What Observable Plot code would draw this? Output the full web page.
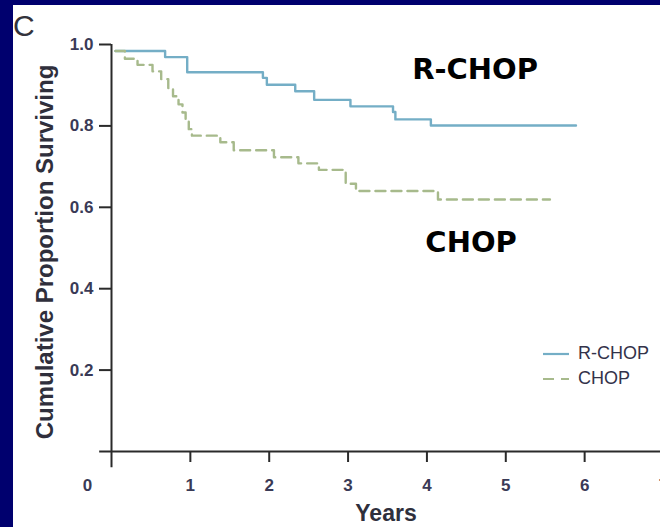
<!DOCTYPE html>
<html>
<head>
<meta charset="utf-8">
<script src="https://cdn.jsdelivr.net/npm/d3@7"></script>
<script src="https://cdn.jsdelivr.net/npm/@observablehq/plot@0.6"></script>
<style>
  html, body { margin: 0; padding: 0; }
  body { width: 660px; height: 527px; background: #00006e; position: relative; overflow: hidden; font-family: "Liberation Sans", Arial, sans-serif; }
  #panel { position: absolute; left: 13px; top: 5px; width: 647px; height: 522px; background: #ffffff; }
  #chart { position: absolute; left: 0; top: 0; }
  #letter { position: absolute; left: 13px; top: 11px; font-size: 30px; color: #33333c; line-height: 1; }
  .leg { position: absolute; left: 543px; font-size: 18px; color: #33334a; height: 20px; line-height: 20px; }
  .leg svg { vertical-align: middle; }
  .leg span { position: absolute; left: 35px; top: 0; white-space: nowrap; }
</style>
</head>
<body>
<div id="panel"></div>
<div id="chart"></div>
<div id="letter">C</div>
<div class="leg" id="leg1" style="top:343px"><svg width="28" height="20"><line x1="0" x2="26" y1="10" y2="10" stroke="#74aec6" stroke-width="2.2"/></svg><span>R-CHOP</span></div>
<div class="leg" id="leg2" style="top:368px"><svg width="28" height="20"><line x1="0" x2="26" y1="10" y2="10" stroke="#a7ba8c" stroke-width="2.2" stroke-dasharray="11,7"/></svg><span>CHOP</span></div>
<script>
// R-CHOP Kaplan-Meier steps
const rchopYears = [0.05, 0.68, 0.96, 1.92, 1.97, 2.33, 2.57, 3.03, 3.57, 3.60, 4.05, 5.89];
const rchopSurv  = [0.984, 0.969, 0.932, 0.918, 0.901, 0.885, 0.864, 0.848, 0.834, 0.816, 0.801, 0.801];
// CHOP Kaplan-Meier steps
const chopYears = [0.05, 0.17, 0.33, 0.52, 0.63, 0.72, 0.78, 0.85, 0.90, 0.94, 0.98, 1.02, 1.38, 1.55, 2.06, 2.37, 2.63, 2.97, 3.10, 4.14, 5.56];
const chopSurv  = [0.984, 0.965, 0.950, 0.934, 0.915, 0.893, 0.873, 0.853, 0.833, 0.812, 0.792, 0.776, 0.760, 0.740, 0.723, 0.708, 0.692, 0.658, 0.640, 0.619, 0.619];

const xTicks = [1, 2, 3, 4, 5, 6, 7];
const yTicks = [0.2, 0.4, 0.6, 0.8, 1.0];
const annoLabels = ["R-CHOP", "CHOP"];
const annoYears = [4.61, 4.56];
const annoSurv = [0.915, 0.49];

const rchop = rchopYears.map((t, i) => ({t, s: rchopSurv[i]}));
const chop = chopYears.map((t, i) => ({t, s: chopSurv[i]}));
const annos = annoLabels.map((label, i) => ({label, t: annoYears[i], s: annoSurv[i]}));

const axisColor = "#2a2a2a";
const tickText = "#3a3a56";
const tickFont = "Liberation Sans, Arial, sans-serif";

const chart = Plot.plot({
  width: 660,
  height: 527,
  marginLeft: 111,
  marginTop: 44,
  marginBottom: 76,
  marginRight: 0,
  style: { background: "transparent", overflow: "hidden" },
  x: { domain: [0, 7], range: [111, 663] },
  y: { domain: [0, 1], range: [451, 44] },
  marks: [
    Plot.ruleY([0], { x1: -0.15, x2: 7, stroke: axisColor, strokeWidth: 2 }),
    Plot.ruleX([0], { y1: 1, y2: -0.04, stroke: axisColor, strokeWidth: 2 }),
    Plot.axisY({ ticks: yTicks, tickFormat: d3.format(".1f"), tickSize: 12, tickPadding: 6, label: null,
      stroke: axisColor, strokeWidth: 2, fill: tickText, fontSize: 17, fontWeight: "bold", fontFamily: tickFont }),
    Plot.axisX({ ticks: xTicks, tickFormat: d3.format("d"), tickSize: 11, tickPadding: 16, label: null,
      stroke: axisColor, strokeWidth: 2, fill: tickText, fontSize: 17, fontWeight: "bold", fontFamily: tickFont }),
    Plot.axisX({ ticks: [0], tickFormat: d3.format("d"), tickSize: 0, tickPadding: 27, dx: -24, label: null,
      fill: tickText, fontSize: 17, fontWeight: "bold", fontFamily: tickFont }),
    Plot.line(rchop, { x: "t", y: "s", curve: "step-after", stroke: "#74aec6", strokeWidth: 2.4 }),
    Plot.line(chop, { x: "t", y: "s", curve: "step-after", stroke: "#a7ba8c", strokeWidth: 2.4, strokeDasharray: "10,6" }),
    Plot.text(annos, { x: "t", y: "s", text: "label", fontSize: 29, fontWeight: "bold", fill: "#000",
      fontFamily: "DejaVu Sans, Verdana, sans-serif", lineAnchor: "bottom", textAnchor: "middle" }),
    Plot.text(["Cumulative Proportion Surviving"], { frameAnchor: "left", dx: -66, dy: 4, rotate: -90, text: d => d,
      fontSize: 24, fontWeight: "bold", fill: "#2f2f3c", fontFamily: tickFont, textAnchor: "middle", lineAnchor: "middle" }),
    Plot.text(["Years"], { frameAnchor: "bottom", dy: 62, text: d => d,
      fontSize: 23, fontWeight: "bold", fill: "#2f2f3c", fontFamily: tickFont, textAnchor: "middle", lineAnchor: "middle" })
  ]
});
document.getElementById("chart").appendChild(chart);
</script>
</body>
</html>
